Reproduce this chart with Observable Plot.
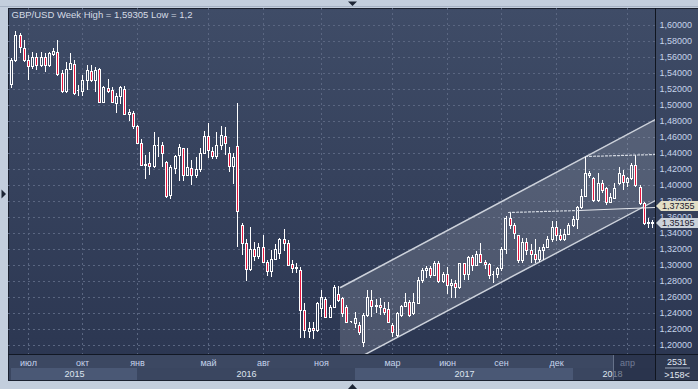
<!DOCTYPE html>
<html>
<head>
<meta charset="utf-8">
<script src="https://cdn.jsdelivr.net/npm/d3@7"></script>
<script src="https://cdn.jsdelivr.net/npm/@observablehq/plot@0.6"></script>
<style>
  html, body { margin: 0; padding: 0; background: #c3cedd; overflow: hidden; }
  #chart svg { display: block; }
</style>
</head>
<body>
<div id="chart"></div>
<script>
const utc = (y, m, d) => new Date(Date.UTC(y, m - 1, d));

const titleText = "GBP/USD Week High = 1,59305 Low = 1,2";
const firstWeek = utc(2015, 6, 1);
const lastWeek = utc(2018, 5, 14);
const weeks = d3.utcMonday.range(firstWeek, d3.utcDay.offset(lastWeek, 1));

// weekly OHLC, Jun 2015 .. May 2018 (one row per calendar year)
const open = [
  1.5280,1.5260,1.5560,1.5875,1.5710,1.5560,1.5490,1.5600,1.5500,1.5596,1.5500,1.5635,1.5667,1.5400,1.5170,1.5450,1.5510,1.5175,1.5180,1.5313,1.5430,1.5313,1.5446,1.5042,1.5208,1.5188,1.5025,1.5110,1.5200,1.4885,1.4900,
  1.4740,1.4530,1.4245,1.4270,1.4235,1.4505,1.4500,1.4290,1.3880,1.4215,1.4370,1.4460,1.4130,1.4210,1.4130,1.4195,1.4400,1.4615,1.4425,1.4360,1.4500,1.4615,1.4400,1.4235,1.4490,1.3500,1.3270,1.2950,1.3200,1.3110,1.3230,1.3040,1.2920,1.3080,1.3150,1.3320,1.3270,1.3013,1.2960,1.2940,1.2438,1.2179,1.2208,1.2188,1.2458,1.2571,1.2354,1.2479,1.2637,1.2583,1.2479,1.2290,
  1.2279,1.2250,1.2042,1.2375,1.2562,1.2487,1.2500,1.2458,1.2446,1.2250,1.2125,1.2375,1.2487,1.2542,1.2396,1.2521,1.2815,1.2935,1.2960,1.2880,1.3030,1.2795,1.2890,1.2745,1.2780,1.2720,1.3025,1.2885,1.3100,1.3000,1.3140,1.3040,1.3010,1.2880,1.2890,1.2960,1.3200,1.3590,1.3500,1.3380,1.3065,1.3285,1.3190,1.3140,1.3075,1.3190,1.3230,1.3320,1.3475,1.3380,1.3330,1.3390,
  1.3505,1.3570,1.3725,1.3860,1.4125,1.4083,1.3813,1.4021,1.3958,1.3792,1.3833,1.4021,1.4125,1.4042,1.4083,1.4250,1.3979,1.3771,1.3521,1.3540
];
const high = [
  1.5440,1.5585,1.5930,1.5895,1.5810,1.5625,1.5665,1.5646,1.5667,1.5646,1.5667,1.5708,1.5810,1.5437,1.5542,1.5646,1.5563,1.5250,1.5375,1.5500,1.5500,1.5479,1.5458,1.5240,1.5321,1.5229,1.5150,1.5240,1.5240,1.4950,1.4930,
  1.4750,1.4580,1.4375,1.4415,1.4665,1.4605,1.4540,1.4300,1.4245,1.4380,1.4515,1.4465,1.4460,1.4310,1.4355,1.4460,1.4670,1.4770,1.4480,1.4665,1.4735,1.4730,1.4480,1.4395,1.5020,1.3530,1.3320,1.3480,1.3290,1.3280,1.3370,1.3060,1.3190,1.3260,1.3340,1.3445,1.3310,1.3063,1.3021,1.2975,1.2521,1.2292,1.2290,1.2542,1.2687,1.2604,1.2500,1.2750,1.2737,1.2604,1.2500,1.2304,
  1.2417,1.2292,1.2396,1.2687,1.2687,1.2571,1.2583,1.2542,1.2542,1.2279,1.2417,1.2500,1.2646,1.2562,1.2646,1.2850,1.2965,1.2990,1.2990,1.3045,1.3050,1.2910,1.2980,1.2820,1.2815,1.3030,1.3030,1.3110,1.3125,1.3180,1.3270,1.3060,1.3030,1.2920,1.2980,1.3220,1.3615,1.3655,1.3520,1.3380,1.3340,1.3340,1.3260,1.3320,1.3230,1.3260,1.3365,1.3550,1.3550,1.3450,1.3445,1.3530,
  1.3610,1.3740,1.3945,1.4365,1.4180,1.4104,1.4146,1.4063,1.3979,1.3896,1.4021,1.4229,1.4188,1.4104,1.4271,1.4375,1.4000,1.3792,1.3583,1.3563
];
const low = [
  1.5170,1.5210,1.5540,1.5645,1.5540,1.5315,1.5445,1.5438,1.5480,1.5417,1.5480,1.5612,1.5363,1.5146,1.5150,1.5440,1.5125,1.5112,1.5112,1.5188,1.5292,1.5167,1.5042,1.5030,1.5154,1.5021,1.4895,1.5010,1.4870,1.4805,1.4700,
  1.4515,1.4240,1.4080,1.4120,1.4215,1.4355,1.4230,1.3835,1.3830,1.4140,1.4050,1.4055,1.4110,1.4005,1.4090,1.4165,1.4395,1.4335,1.4330,1.4330,1.4440,1.4375,1.4165,1.4010,1.3230,1.3120,1.2800,1.2930,1.3050,1.3070,1.3020,1.2860,1.2850,1.3060,1.3070,1.3170,1.2985,1.2904,1.2896,1.2085,1.2083,1.2083,1.2080,1.2167,1.2354,1.2333,1.2333,1.2458,1.2542,1.2354,1.2279,1.2271,
  1.2208,1.2125,1.1979,1.2354,1.2354,1.2396,1.2375,1.2375,1.2279,1.2104,1.2104,1.2354,1.2470,1.2354,1.2375,1.2510,1.2775,1.2840,1.2840,1.2860,1.2770,1.2770,1.2635,1.2590,1.2590,1.2700,1.2810,1.2810,1.2930,1.2990,1.3030,1.2950,1.2830,1.2775,1.2840,1.2930,1.3140,1.3450,1.3330,1.3030,1.3030,1.3120,1.3030,1.3025,1.3040,1.3065,1.3225,1.3290,1.3300,1.3300,1.3300,1.3380,
  1.3480,1.3455,1.3700,1.3845,1.4090,1.3792,1.3792,1.3896,1.3750,1.3771,1.3821,1.4000,1.3938,1.3979,1.4063,1.3979,1.3750,1.3500,1.3458,1.3458
];
const close = [
  1.5270,1.5560,1.5875,1.5730,1.5560,1.5490,1.5605,1.5500,1.5600,1.5500,1.5646,1.5680,1.5388,1.5170,1.5450,1.5520,1.5155,1.5185,1.5313,1.5437,1.5313,1.5437,1.5042,1.5229,1.5180,1.5042,1.5110,1.5225,1.4885,1.4910,1.4740,
  1.4530,1.4245,1.4260,1.4235,1.4500,1.4495,1.4400,1.3865,1.4225,1.4365,1.4475,1.4125,1.4225,1.4130,1.4200,1.4395,1.4615,1.4440,1.4360,1.4500,1.4625,1.4520,1.4240,1.4355,1.3670,1.3270,1.2950,1.3200,1.3110,1.3230,1.3040,1.2920,1.3080,1.3200,1.3320,1.3270,1.3000,1.2958,1.2980,1.2440,1.2188,1.2208,1.2188,1.2521,1.2604,1.2354,1.2479,1.2721,1.2563,1.2396,1.2292,1.2295,
  1.2333,1.2167,1.2375,1.2600,1.2487,1.2500,1.2470,1.2417,1.2292,1.2167,1.2396,1.2487,1.2542,1.2375,1.2542,1.2812,1.2935,1.2960,1.2880,1.3030,1.2795,1.2890,1.2745,1.2780,1.2720,1.3025,1.2885,1.3100,1.3000,1.3140,1.3040,1.3010,1.2880,1.2890,1.2960,1.3200,1.3590,1.3500,1.3400,1.3065,1.3285,1.3190,1.3140,1.3075,1.3190,1.3230,1.3320,1.3475,1.3380,1.3330,1.3390,1.3505,
  1.3570,1.3725,1.3860,1.4155,1.4150,1.3813,1.4021,1.3938,1.3792,1.3854,1.3958,1.4146,1.4042,1.4083,1.4250,1.4000,1.3771,1.3521,1.3540,1.35195
];

const yTicks = [1.20,1.22,1.24,1.26,1.28,1.30,1.32,1.34,1.36,1.38,1.40,1.42,1.44,1.46,1.48,1.50,1.52,1.54,1.56,1.58,1.60];
// first weekly bar of each labelled month
const monthTicks = [utc(2015,7,6), utc(2015,10,5), utc(2016,1,4), utc(2016,5,2), utc(2016,8,1), utc(2016,11,7), utc(2017,3,6), utc(2017,6,5), utc(2017,9,4), utc(2017,12,4), utc(2018,4,2)];
const monthLabels = ["июл","окт","янв","май","авг","ноя","мар","июн","сен","дек","апр"];
const yearLabels = ["2015","2016","2017","2018"];
const yearStarts = [utc(2015,6,8), utc(2016,1,4), utc(2017,1,2), utc(2018,1,1)];
const yearEnds = [utc(2016,1,4), utc(2017,1,2), utc(2018,1,1), lastWeek];

// drawn channel and levels
const channelDates = [utc(2016,12,8), utc(2018,5,19)];
const channelUpper = [1.2729, 1.4820];
const channelLower = [1.1720, 1.3810];
const topLevelDates = [utc(2018,1,22), utc(2018,5,19)];
const topLevelPrices = [1.4368, 1.4385];
const midLevelDates = [utc(2017,9,15), utc(2018,1,10), utc(2018,5,19)];
const midLevelPrices = [1.3666, 1.3690, 1.3722];
const tagValues = [1.37355, 1.35195];
const tagLabels = ["1,37355", "1,35195"];
const counterTop = "2531", counterBottom = ">158<";

// ---------- build ----------
const W = 698, H = 389;
const fL = 8, fR = 655, fT = 8, fB = 354;
const xRange = [7.06, 652.1], yRange = [345, 25];
const pxPerPrice = (yRange[0] - yRange[1]) / (1.6 - 1.2);
const msPerPx = (lastWeek - firstWeek) / (xRange[1] - xRange[0]);

const candles = weeks.map((date, i) => ({
  date, open: open[i], high: high[i], low: low[i], close: close[i],
  top: Math.max(open[i], close[i]), bottom: Math.min(open[i], close[i])
}));
const doji = candles.filter(d => Math.abs(d.close - d.open) * pxPerPrice < 1);
const ups = candles.filter(d => d.close > d.open && !doji.includes(d));
const downs = candles.filter(d => d.close < d.open && !doji.includes(d));
const leftEdge = d => new Date(+d.date - msPerPx);
const rightEdge = d => new Date(+d.date + msPerPx);

const gridStyle = {stroke: "#5a6681", strokeOpacity: 1, strokeDasharray: "2,3"};
const cs = {shapeRendering: "crispEdges", clip: true};

const chart = Plot.plot({
  width: W, height: H,
  marginLeft: fL, marginRight: W - fR, marginTop: fT, marginBottom: H - fB,
  style: {background: "#c3cedd", fontFamily: "'Liberation Sans', Arial, sans-serif", fontSize: "9px", overflow: "visible"},
  x: {type: "utc", domain: [firstWeek, lastWeek], range: xRange, round: true, axis: null},
  y: {domain: [1.2, 1.6], range: yRange, round: true},
  marks: [
    Plot.gridY(yTicks, gridStyle),
    Plot.gridX(monthTicks, gridStyle),
    Plot.areaY(channelDates, {x: d => d, y1: (d, i) => channelLower[i], y2: (d, i) => channelUpper[i], fill: "#ffffff", fillOpacity: 0.15, clip: true}),
    Plot.line(channelDates, {x: d => d, y: (d, i) => channelUpper[i], stroke: "#cdd2db", strokeWidth: 1.5, clip: true}),
    Plot.line(channelDates, {x: d => d, y: (d, i) => channelLower[i], stroke: "#cdd2db", strokeWidth: 1.5, clip: true}),
    Plot.ruleX(candles, {x: "date", y1: "high", y2: "top", stroke: "#ffffff", ...cs}),
    Plot.ruleX(candles, {x: "date", y1: "bottom", y2: "low", stroke: "#ffffff", ...cs}),
    Plot.rect(ups, {x1: leftEdge, x2: rightEdge, y1: "open", y2: "close", fill: "none", stroke: "#ffffff", ...cs}),
    Plot.rect(downs, {x1: leftEdge, x2: rightEdge, y1: "open", y2: "close", fill: "#e8173f", stroke: "#ffffff", ...cs}),
    Plot.ruleY(doji, {x1: leftEdge, x2: rightEdge, y: "close", stroke: "#ffffff", ...cs}),
    Plot.line(topLevelDates, {x: d => d, y: (d, i) => topLevelPrices[i], stroke: "#d4d9e2", strokeWidth: 1.2, strokeDasharray: "2,2", clip: true}),
    Plot.line(midLevelDates.slice(0, 2), {x: d => d, y: (d, i) => midLevelPrices[i], stroke: "#d4d9e2", strokeWidth: 1.2, strokeDasharray: "2,2", clip: true}),
    Plot.line(midLevelDates.slice(1), {x: d => d, y: (d, i) => midLevelPrices[i + 1], stroke: "#e4e7ec", strokeWidth: 1.2, clip: true}),
    Plot.axisY(yTicks, {anchor: "right", tickSize: 0, tickPadding: 4, label: null, tickFormat: d => d.toFixed(5).replace(".", ","), fill: "#c6d4ea", fontSize: 9}),
    Plot.text([titleText], {frameAnchor: "top-left", dx: 3, dy: 3, textAnchor: "start", lineAnchor: "top", fill: "#d5dbe5", fontSize: 9.5}),
    Plot.text(monthTicks, {x: d => d, text: (d, i) => monthLabels[i], frameAnchor: "bottom", lineAnchor: "top", dy: 5, fill: "#c6d4ec", fontSize: 9}),
    Plot.text(yearLabels, {x: (d, i) => new Date((+yearStarts[i] + +yearEnds[i]) / 2), text: d => d, frameAnchor: "bottom", lineAnchor: "top", dy: 16, fill: "#dde4ef", fontSize: 9})
  ]
});

// ---------- panel decoration ----------
const svg = d3.select(chart);
const sx = chart.scale("x"), sy = chart.scale("y");
const deco = svg.insert("g", ":first-child");
svg.insert("defs", ":first-child").html(
  '<linearGradient id="bgGrad" x1="0" y1="0" x2="0" y2="1">' +
  '<stop offset="0" stop-color="#3f4c67"/><stop offset="1" stop-color="#2c3752"/></linearGradient>');
const box = (g, x, y, w, h, fill) => g.append("rect").attr("x", x).attr("y", y).attr("width", w).attr("height", h).attr("fill", fill);
box(deco, fL, fT, W - fL, fB - fT, "url(#bgGrad)");
box(deco, fL, fB, fR - fL, 14, "#3c4862");
box(deco, fL, fB + 14, fR - fL, 12, "#3a4660");
yearLabels.forEach((y, i) => {
  if (i % 2 === 0) {
    const x0 = sx.apply(yearStarts[i]), x1 = sx.apply(yearEnds[i]);
    box(deco, x0, fB + 14, x1 - x0, 12, "#4a5875");
  }
});
box(deco, fR, fB, W - fR, 26, "#2f3a52");
box(deco, 0, 6, W, 1, "#a6b2c4");
box(deco, fL, fT, W - fL, 1, "#1b2130");
box(deco, fL, fT, 1, fB + 26 - fT, "#1b2130");
box(deco, fL, fB, W - fL, 1, "#121824");
box(deco, fR, fT, 1, fB + 26 - fT, "#10151f");
box(deco, fL, fB + 26, W - fL, 1, "#1b2130");
deco.append("polygon").attr("points", "348,1.5 357,1.5 352.5,6").attr("fill", "#1d2535");
deco.append("polygon").attr("points", "1.5,189.5 1.5,198.5 6,194").attr("fill", "#1d2535");
deco.append("polygon").attr("points", "348,389 357,389 352.5,384").attr("fill", "#1d2535");

// overlays on top
const overlay = svg.append("g");
box(overlay, 613, fB + 1, fR - 613, 25, "#19213a").attr("opacity", 0.5);
box(overlay, 613, fB + 1, 1, 25, "#66728a");
tagValues.forEach((v, i) => {
  const y = sy.apply(v);
  overlay.append("path")
    .attr("d", `M656,${y} L661,${y - 5} L698,${y - 5} L698,${y + 5} L661,${y + 5} Z`)
    .attr("fill", i === 0 ? "#e2dfc6" : "#cbd2da");
  overlay.append("text").attr("x", 662).attr("y", y + 3.3).attr("text-anchor", "start")
    .attr("fill", "#1b2130").attr("font-size", 9).text(tagLabels[i]);
});
overlay.append("text").attr("x", 677).attr("y", 364.5).attr("text-anchor", "middle").attr("fill", "#e2e8f1").attr("font-size", 9).text(counterTop);
box(overlay, 665, 367.5, 25, 1, "#9aa5b8");
overlay.append("text").attr("x", 677).attr("y", 378).attr("text-anchor", "middle").attr("fill", "#e2e8f1").attr("font-size", 9).text(counterBottom);

document.getElementById("chart").appendChild(chart);
</script>
</body>
</html>
